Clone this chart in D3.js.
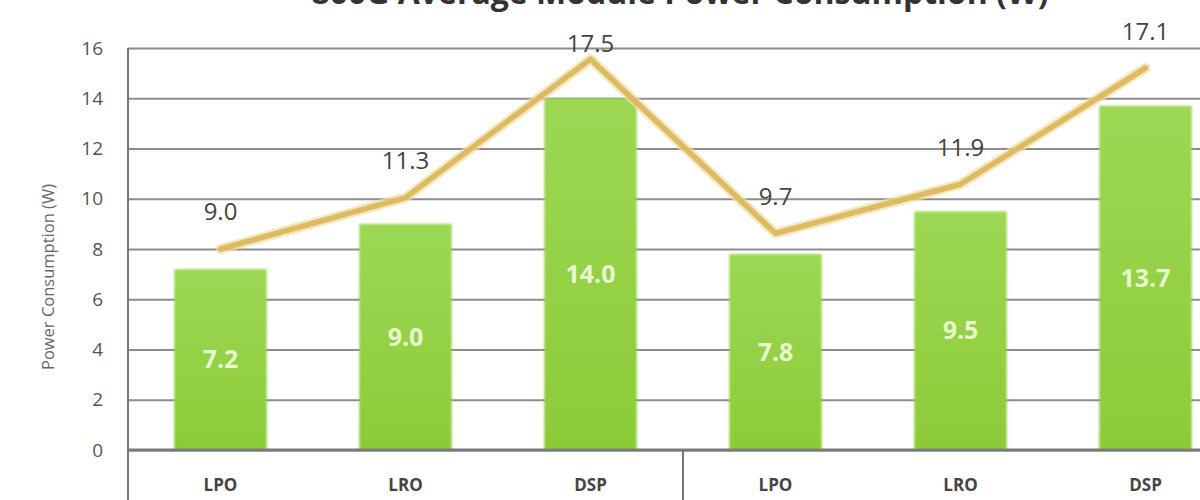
<!DOCTYPE html>
<html>
<head>
<meta charset="utf-8">
<script src="https://cdn.jsdelivr.net/npm/d3@7"></script>
<style>
  html, body { margin: 0; padding: 0; background: #fff; }
  svg { display: block; }
</style>
</head>
<body>
<svg id="chart" width="1200" height="500"></svg>
<script>
// ---- data ----
const title = "800G Average Module Power Consumption (W)";
const yAxisTitle = "Power Consumption (W)";
const categories = ["LPO", "LRO", "DSP", "LPO", "LRO", "DSP"];
const barValues = [7.2, 9.0, 14.0, 7.8, 9.5, 13.7];
const lineValues = [9.0, 11.3, 17.5, 9.7, 11.9, 17.1];
const yTicks = [0, 2, 4, 6, 8, 10, 12, 14, 16];
const groupSize = 3;

(function () {
// ---- layout ----
const svg = d3.select("#chart");
const mLeft = 128, mTop = 48, mBottom = 450, step = 185;
const mRight = mLeft + step * categories.length;

const x = d3.scaleBand()
  .domain(d3.range(categories.length))
  .range([mLeft, mRight])
  .paddingInner(0.5)
  .paddingOuter(0.25);

const y = d3.scaleLinear().domain([0, 16]).range([mBottom, mTop]);
const y2 = d3.scaleLinear().domain([0, 18]).range([mBottom, mTop]); // hidden secondary axis for line

const defs = svg.append("defs");
const grad = defs.append("linearGradient").attr("id", "barGrad")
  .attr("x1", 0).attr("y1", 0).attr("x2", 0).attr("y2", 1);
grad.append("stop").attr("offset", "0%").attr("stop-color", "#9dd854");
grad.append("stop").attr("offset", "100%").attr("stop-color", "#8ccb38");

const blur = defs.append("filter").attr("id", "soft").attr("x", "-5%").attr("y", "-5%").attr("width", "110%").attr("height", "110%");
blur.append("feGaussianBlur").attr("stdDeviation", 0.8);

// title (partly cropped at top)
const titleText = svg.append("text")
  .attr("x", 680).attr("y", 4)
  .attr("text-anchor", "middle")
  .attr("font-family", "'Open Sans', sans-serif")
  .attr("font-weight", "bold")
  .attr("font-size", 32)
  .attr("fill", "#333")
  .text(title);
const tb = titleText.node().getBBox();

// gridlines
const grid = svg.append("g")
  .attr("transform", `translate(${mLeft},0)`)
  .call(d3.axisLeft(y).tickValues(yTicks).tickSize(-(mRight - mLeft)).tickFormat(""));
grid.select(".domain").remove();
grid.selectAll("line").attr("stroke", "#8c8c8c").attr("stroke-width", 2.2);

// tick labels
const tl = svg.append("g")
  .attr("transform", `translate(${mLeft},0)`)
  .call(d3.axisLeft(y).tickValues(yTicks).tickSize(0).tickPadding(25).tickFormat(d3.format("d")));
tl.select(".domain").remove();
tl.selectAll("text")
  .attr("font-family", "'Liberation Sans Narrow', 'Open Sans', sans-serif")
  .attr("font-size", 19).attr("fill", "#555");

// bars
svg.append("g").selectAll("rect").data(barValues).join("rect")
  .attr("x", (d, i) => x(i))
  .attr("y", d => y(d))
  .attr("width", x.bandwidth())
  .attr("height", d => y(0) - y(d))
  .attr("fill", "url(#barGrad)")
  .attr("filter", "url(#soft)");

// bar labels
svg.append("g").selectAll("text").data(barValues).join("text")
  .attr("x", (d, i) => x(i) + x.bandwidth() / 2)
  .attr("y", d => (y(d) + y(0)) / 2)
  .attr("dy", "0.35em")
  .attr("text-anchor", "middle")
  .attr("font-family", "'Open Sans', sans-serif")
  .attr("font-weight", "bold")
  .attr("font-size", 25)
  .attr("fill", "#e9f8cf")
  .text(d => d3.format(".1f")(d));

// baseline, left border, group divider
svg.append("line").attr("x1", mLeft).attr("x2", mRight).attr("y1", y(0)).attr("y2", y(0))
  .attr("stroke", "#7a7a7a").attr("stroke-width", 3);
svg.append("line").attr("x1", mLeft).attr("x2", mLeft).attr("y1", mTop).attr("y2", 500)
  .attr("stroke", "#777").attr("stroke-width", 2);
const divX = x(groupSize) - x.step() * x.paddingInner() / 2;
svg.append("line")
  .attr("x1", divX).attr("x2", divX)
  .attr("y1", y(0)).attr("y2", 500)
  .attr("stroke", "#777").attr("stroke-width", 2);

// category labels
svg.append("g").selectAll("text").data(categories).join("text")
  .attr("x", (d, i) => x(i) + x.bandwidth() / 2)
  .attr("y", 485)
  .attr("dy", "0.35em")
  .attr("text-anchor", "middle")
  .attr("font-family", "'Liberation Sans Narrow', 'Open Sans', sans-serif")
  .attr("font-weight", "bold")
  .attr("font-size", 17)
  .attr("fill", "#444")
  .text(d => d);

// line
const line = d3.line()
  .x((d, i) => x(i) + x.bandwidth() / 2)
  .y(d => y2(d));
svg.append("path").datum(lineValues)
  .attr("d", line).attr("fill", "none")
  .attr("stroke", "#f1dca0").attr("stroke-width", 10)
  .attr("stroke-linejoin", "round").attr("stroke-linecap", "round").attr("opacity", 0.7);
svg.append("path").datum(lineValues)
  .attr("d", line).attr("fill", "none")
  .attr("stroke", "#dcbb62").attr("stroke-width", 5.5)
  .attr("stroke-linejoin", "round").attr("stroke-linecap", "round");

// line labels (pushed down if they would collide with the title)
const labelFont = 24;
svg.append("g").selectAll("text").data(lineValues).join("text")
  .attr("x", (d, i) => x(i) + x.bandwidth() / 2)
  .attr("y", (d, i) => {
    let cy = y2(d) - 37;
    const cx = x(i) + x.bandwidth() / 2;
    const halfW = 22;
    const overlapX = cx + halfW > tb.x && cx - halfW < tb.x + tb.width;
    if (overlapX && cy - labelFont / 2 < tb.y + tb.height) cy = mTop - 4;
    return cy;
  })
  .attr("dy", "0.35em")
  .attr("text-anchor", "middle")
  .attr("font-family", "'Liberation Sans Narrow', 'Open Sans', sans-serif")
  .attr("font-size", labelFont)
  .attr("fill", "#444")
  .text(d => d3.format(".1f")(d));

// y axis title
svg.append("text")
  .attr("transform", `translate(48,${(mTop + mBottom) / 2 + 28}) rotate(-90)`)
  .attr("text-anchor", "middle")
  .attr("dy", "0.35em")
  .attr("font-family", "'Open Sans', sans-serif")
  .attr("font-size", 16.5)
  .attr("fill", "#666")
  .text(yAxisTitle);
})();
</script>
</body>
</html>
